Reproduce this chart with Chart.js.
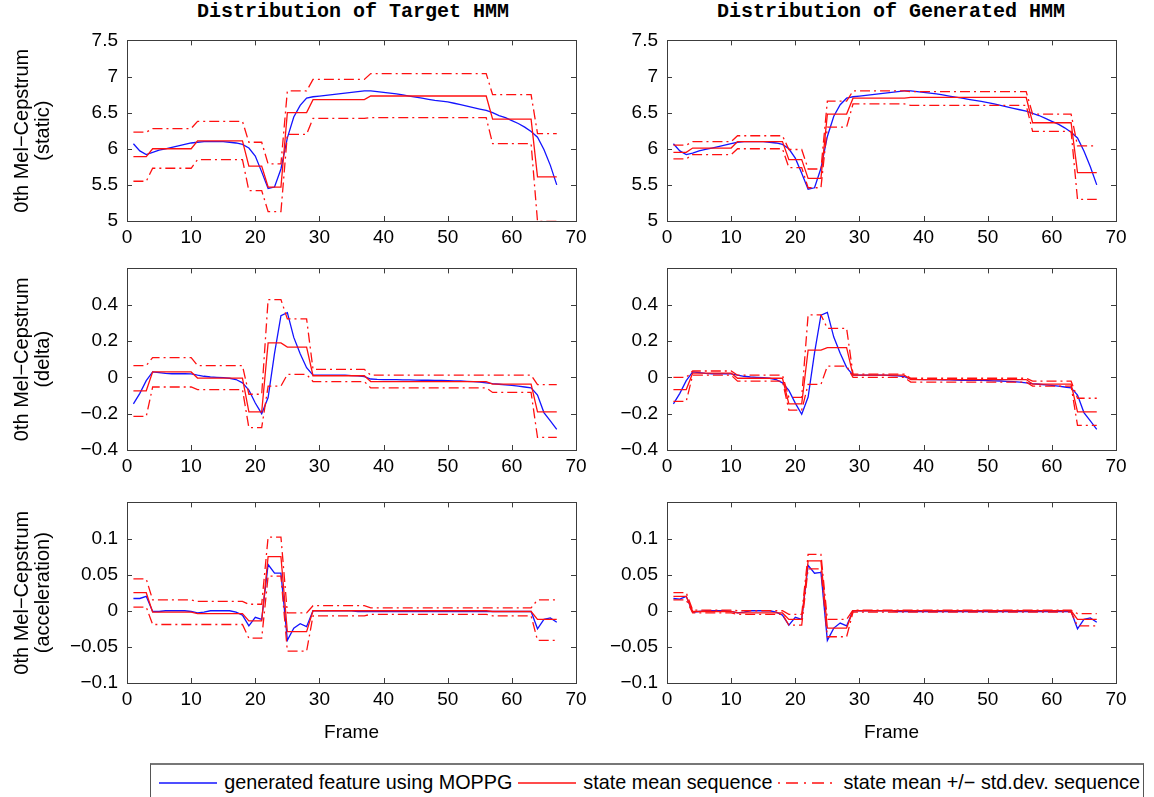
<!DOCTYPE html>
<html>
<head>
<meta charset="utf-8">
<script src="https://cdn.jsdelivr.net/npm/chart.js@4.4.0/dist/chart.umd.min.js"></script>
<style>
  body { margin: 0; width: 1154px; height: 797px; background: #fff; position: relative; overflow: hidden;
         font-family: "Liberation Sans", Arial, sans-serif; }
  canvas { position: absolute; }
  .coltitle { position: absolute; top: 0; line-height: 26px; font: bold 20px "Liberation Mono", monospace;
              transform: translateX(-50%); white-space: nowrap; color: #000; }
  #legend { position: absolute; left: 150px; top: 763px; width: 994px; height: 38px; box-sizing: border-box;
            border: 1px solid #555; border-top: 2px solid #777; display: flex; align-items: center;
            justify-content: flex-end; padding-right: 3px; font-size: 19.8px; color: #000; white-space: nowrap; }
  #legend svg { margin: 0 7px 0 6px; }
</style>
</head>
<body>
<div class="coltitle" style="left:353px">Distribution of Target HMM</div>
<div class="coltitle" style="left:891px">Distribution of Generated HMM</div>

<canvas id="c1" width="606" height="236" style="left:0;top:20px"></canvas>
<canvas id="c2" width="540" height="236" style="left:606px;top:20px"></canvas>
<canvas id="c3" width="606" height="237" style="left:0;top:248px"></canvas>
<canvas id="c4" width="540" height="237" style="left:606px;top:248px"></canvas>
<canvas id="c5" width="606" height="263" style="left:0;top:482px"></canvas>
<canvas id="c6" width="540" height="263" style="left:606px;top:482px"></canvas>

<div id="legend">
  <svg width="58" height="10"><line x1="0" y1="5" x2="58" y2="5" stroke="#1414ff" stroke-width="1.3"/></svg>
  <span>generated feature using MOPPG</span>
  <svg width="58" height="10"><line x1="0" y1="5" x2="58" y2="5" stroke="#ff1010" stroke-width="1.3"/></svg>
  <span>state mean sequence</span>
  <svg width="58" height="10"><line x1="0" y1="5" x2="58" y2="5" stroke="#ff1010" stroke-width="1.3" stroke-dasharray="2 6 12 6"/></svg>
  <span>state mean +/− std.dev. sequence</span>
</div>

<script>
// frame index (x axis)
const frames = [1,2,3,4,5,6,7,8,9,10,11,12,13,14,15,16,17,18,19,20,21,22,23,24,25,26,27,28,29,30,
  31,32,33,34,35,36,37,38,39,40,41,42,43,44,45,46,47,48,49,50,51,52,53,54,55,56,57,58,59,60,
  61,62,63,64,65,66,67];

// HMM state segments (first and last frame of each state)
const stateStart = [1, 4, 11, 19, 22, 25, 29, 38, 57, 64];
const stateEnd   = [3, 10, 18, 21, 24, 28, 37, 56, 63, 67];

const xTicks = [0, 10, 20, 30, 40, 50, 60, 70];
const staticTicks = [5, 5.5, 6, 6.5, 7, 7.5];
const deltaTicks = [-0.4, -0.2, 0, 0.2, 0.4];
const accelTicks = [-0.1, -0.05, 0, 0.05, 0.1];

// ---- static ----
const tgtStaticBlue = [6.07,5.97,5.92,5.95,5.98,6.00,6.02,6.04,6.06,6.08,
  6.09,6.10,6.10,6.10,6.10,6.09,6.08,6.06,6.01,5.90,
  5.68,5.45,5.47,5.72,6.15,6.44,6.60,6.70,6.72,6.73,
  6.74,6.75,6.76,6.77,6.78,6.79,6.80,6.80,6.79,6.78,
  6.77,6.76,6.745,6.73,6.715,6.70,6.685,6.67,6.66,6.65,
  6.63,6.61,6.59,6.57,6.55,6.53,6.50,6.46,6.43,6.39,
  6.35,6.30,6.24,6.16,5.99,5.77,5.50];
const tgtStaticMean  = [5.89, 6.00, 6.11, 5.76, 5.47, 6.50, 6.68, 6.73, 6.41, 5.61];
const tgtStaticUpper = [6.23, 6.28, 6.38, 6.09, 5.79, 6.80, 6.96, 7.04, 6.75, 6.21];
const tgtStaticLower = [5.55, 5.73, 5.85, 5.42, 5.13, 6.20, 6.42, 6.43, 6.07, 4.995];

const genStaticBlue = [6.07,5.97,5.92,5.94,5.97,5.99,6.01,6.03,6.05,6.07,
  6.09,6.10,6.10,6.10,6.10,6.09,6.08,6.06,6.00,5.87,
  5.66,5.44,5.46,5.73,6.17,6.45,6.61,6.70,6.72,6.73,
  6.74,6.75,6.76,6.77,6.78,6.79,6.80,6.80,6.79,6.78,
  6.77,6.76,6.745,6.73,6.715,6.70,6.685,6.67,6.655,6.64,
  6.62,6.60,6.58,6.56,6.54,6.52,6.49,6.46,6.42,6.38,
  6.34,6.29,6.23,6.15,5.97,5.75,5.50];
const genStaticMean  = [5.95, 6.01, 6.10, 5.85, 5.59, 6.48, 6.70, 6.71, 6.36, 5.67];
const genStaticUpper = [6.05, 6.10, 6.18, 5.99, 5.72, 6.66, 6.80, 6.79, 6.48, 6.04];
const genStaticLower = [5.86, 5.92, 6.00, 5.74, 5.46, 6.30, 6.62, 6.60, 6.24, 5.30];

// ---- delta ----
const tgtDeltaBlue = [-0.146,-0.088,-0.018,0.030,0.026,0.022,0.020,0.020,0.020,0.019,
  0.012,0.006,0.002,0.000,-0.002,-0.005,-0.012,-0.030,-0.070,-0.141,
  -0.200,-0.111,0.132,0.340,0.356,0.220,0.130,0.053,0.012,0.012,
  0.012,0.012,0.012,0.012,0.010,0.008,0.004,-0.009,-0.011,-0.012,
  -0.013,-0.013,-0.014,-0.014,-0.015,-0.016,-0.016,-0.017,-0.017,-0.018,
  -0.019,-0.020,-0.022,-0.024,-0.026,-0.030,-0.035,-0.038,-0.041,-0.044,
  -0.048,-0.053,-0.058,-0.097,-0.194,-0.240,-0.287];
const tgtDeltaMean  = [-0.074, 0.030, -0.004, -0.190, 0.190, 0.167, 0.009, -0.023, -0.037, -0.190];
const tgtDeltaUpper = [0.065, 0.109, 0.065, -0.093, 0.428, 0.322, 0.044, 0.012, 0.012, -0.040];
const tgtDeltaLower = [-0.215, -0.053, -0.067, -0.277, -0.048, 0.016, -0.023, -0.058, -0.083, -0.331];

const genDeltaBlue = [-0.146,-0.088,-0.018,0.030,0.026,0.022,0.020,0.020,0.020,0.019,
  0.012,0.006,0.002,0.000,-0.002,-0.005,-0.012,-0.030,-0.072,-0.142,
  -0.203,-0.108,0.135,0.342,0.358,0.222,0.133,0.055,0.012,0.012,
  0.012,0.012,0.012,0.012,0.010,0.008,0.004,-0.009,-0.011,-0.012,
  -0.013,-0.013,-0.014,-0.014,-0.015,-0.016,-0.016,-0.017,-0.017,-0.018,
  -0.019,-0.020,-0.022,-0.024,-0.026,-0.030,-0.035,-0.038,-0.041,-0.044,
  -0.048,-0.053,-0.058,-0.097,-0.194,-0.240,-0.287];
const genDeltaMean  = [-0.067, 0.023, -0.005, -0.146, 0.150, 0.164, 0.012, -0.012, -0.037, -0.190];
const genDeltaUpper = [0.000, 0.035, 0.012, -0.110, 0.344, 0.270, 0.018, -0.005, -0.021, -0.115];
const genDeltaLower = [-0.132, 0.012, -0.021, -0.180, -0.039, 0.062, 0.000, -0.026, -0.048, -0.264];

// ---- acceleration ----
const tgtAccelBlue = [0.017,0.017,0.020,-0.001,-0.001,0.000,0.000,0.000,0.000,-0.001,
  -0.003,-0.002,0.000,0.000,0.000,0.000,-0.002,-0.006,-0.021,-0.009,
  -0.012,0.064,0.052,0.052,-0.041,-0.024,-0.018,-0.022,0.000,0.000,
  0.000,0.000,0.000,0.000,0.000,-0.001,-0.001,-0.001,-0.001,-0.001,
  -0.001,-0.001,-0.001,-0.001,-0.001,-0.001,-0.001,-0.001,-0.001,-0.001,
  -0.001,-0.001,-0.001,-0.001,-0.001,-0.001,-0.001,-0.001,-0.001,-0.001,
  -0.001,-0.001,-0.001,-0.025,-0.012,-0.010,-0.016];
const tgtAccelMean  = [0.025, -0.002, -0.004, -0.014, 0.075, -0.029, 0.000, 0.000, -0.001, -0.012];
const tgtAccelUpper = [0.044, 0.015, 0.013, 0.009, 0.102, -0.003, 0.007, 0.004, 0.004, 0.015];
const tgtAccelLower = [0.005, -0.019, -0.019, -0.038, 0.048, -0.056, -0.007, -0.005, -0.007, -0.041];

const genAccelBlue = [0.017,0.016,0.020,-0.002,-0.001,0.000,0.000,0.000,0.000,-0.001,
  -0.003,-0.002,0.000,0.000,0.000,0.000,-0.002,-0.006,-0.020,-0.009,
  -0.012,0.063,0.052,0.053,-0.041,-0.024,-0.017,-0.021,0.000,0.000,
  0.000,0.000,0.000,0.000,0.000,-0.001,-0.001,-0.001,-0.001,-0.001,
  -0.001,-0.001,-0.001,-0.001,-0.001,-0.001,-0.001,-0.001,-0.001,-0.001,
  -0.001,-0.001,-0.001,-0.001,-0.001,-0.001,-0.001,-0.001,-0.001,-0.001,
  -0.001,-0.001,-0.001,-0.025,-0.012,-0.010,-0.016];
const genAccelMean  = [0.020, -0.001, -0.003, -0.012, 0.069, -0.024, 0.000, 0.000, 0.000, -0.012];
const genAccelUpper = [0.025, 0.001, 0.000, -0.005, 0.078, -0.012, 0.001, 0.001, 0.001, -0.004];
const genAccelLower = [0.015, -0.003, -0.005, -0.020, 0.058, -0.036, -0.002, -0.002, -0.002, -0.021];

const BLUE = '#1414ff';
const RED = '#ff1010';
const FONT = '"Liberation Sans", Arial, sans-serif';

// corner points of a state sequence: each state is flat from its first to its last frame
function statePoints(vals) {
  const pts = [];
  vals.forEach((v, i) => {
    pts.push({ x: stateStart[i], y: v });
    pts.push({ x: stateEnd[i], y: v });
  });
  return pts;
}

// matlab style box with inward ticks on all four sides
const boxPlugin = {
  id: 'matlabBox',
  beforeDatasetsDraw(chart) {
    const { ctx, chartArea: a, scales } = chart;
    ctx.save();
    ctx.strokeStyle = '#3c3c3c';
    ctx.lineWidth = 1;
    ctx.beginPath();
    scales.x.ticks.forEach(t => {
      const px = Math.round(scales.x.getPixelForValue(t.value)) + 0.5;
      ctx.moveTo(px, a.bottom); ctx.lineTo(px, a.bottom - 5);
      ctx.moveTo(px, a.top); ctx.lineTo(px, a.top + 5);
    });
    scales.y.ticks.forEach(t => {
      const py = Math.round(scales.y.getPixelForValue(t.value)) + 0.5;
      ctx.moveTo(a.left, py); ctx.lineTo(a.left + 5, py);
      ctx.moveTo(a.right, py); ctx.lineTo(a.right - 5, py);
    });
    ctx.stroke();
    ctx.strokeRect(Math.round(a.left) + 0.5, Math.round(a.top) + 0.5,
                   Math.round(a.right - a.left), Math.round(a.bottom - a.top));
    ctx.restore();
  }
};

function fmt(v) {
  return String(v).replace('-', '\u2212');
}

function makePanel(id, blue, mean, upper, lower, yMin, yMax, yTicks, yWidth, yTitle, xHeight, xTitle) {
  new Chart(document.getElementById(id), {
    type: 'line',
    data: {
      datasets: [
        { data: statePoints(mean), borderColor: RED, borderWidth: 1.3 },
        { data: statePoints(upper), borderColor: RED, borderWidth: 1.3, borderDash: [10, 4, 2, 4] },
        { data: statePoints(lower), borderColor: RED, borderWidth: 1.3, borderDash: [10, 4, 2, 4] },
        { data: frames.map((f, i) => ({ x: f, y: blue[i] })), borderColor: BLUE, borderWidth: 1.3 }
      ]
    },
    options: {
      responsive: false,
      animation: false,
      layout: { padding: { top: 14, right: 30, left: 0, bottom: 0 } },
      elements: { point: { radius: 0 }, line: { tension: 0, fill: false } },
      plugins: { legend: { display: false }, tooltip: { enabled: false } },
      scales: {
        x: {
          type: 'linear', min: 0, max: 70,
          grid: { display: false, drawTicks: false },
          border: { display: false },
          afterBuildTicks: s => { s.ticks = xTicks.map(v => ({ value: v })); },
          afterFit: s => { s.height = xHeight; },
          ticks: { font: { family: FONT, size: 19 }, color: '#000', padding: 5, maxRotation: 0, callback: v => fmt(v) },
          title: { display: !!xTitle, text: xTitle || '', color: '#000',
                   font: { family: FONT, size: 19 }, padding: { top: 0, bottom: 1 } }
        },
        y: {
          type: 'linear', min: yMin, max: yMax,
          grid: { display: false, drawTicks: false },
          border: { display: false },
          afterBuildTicks: s => { s.ticks = yTicks.map(v => ({ value: v })); },
          afterFit: s => { s.width = yWidth; },
          ticks: { font: { family: FONT, size: 19 }, color: '#000', padding: 9, callback: v => fmt(v) },
          title: { display: !!yTitle, text: yTitle || '', color: '#000',
                   font: { family: FONT, size: 20, lineHeight: 1.05 }, padding: { top: 11.5, bottom: 0 } }
        }
      }
    },
    plugins: [boxPlugin]
  });
}

makePanel('c1', tgtStaticBlue, tgtStaticMean, tgtStaticUpper, tgtStaticLower, 5, 7.5, staticTicks, 127,
  ['0th Mel\u2212Cepstrum', '(static)'], 35, null);
makePanel('c2', genStaticBlue, genStaticMean, genStaticUpper, genStaticLower, 5, 7.5, staticTicks, 61,
  null, 35, null);
makePanel('c3', tgtDeltaBlue, tgtDeltaMean, tgtDeltaUpper, tgtDeltaLower, -0.4, 0.6, deltaTicks, 127,
  ['0th Mel\u2212Cepstrum', '(delta)'], 35, null);
makePanel('c4', genDeltaBlue, genDeltaMean, genDeltaUpper, genDeltaLower, -0.4, 0.6, deltaTicks, 61,
  null, 35, null);
makePanel('c5', tgtAccelBlue, tgtAccelMean, tgtAccelUpper, tgtAccelLower, -0.1, 0.15, accelTicks, 127,
  ['0th Mel\u2212Cepstrum', '(acceleration)'], 62, 'Frame');
makePanel('c6', genAccelBlue, genAccelMean, genAccelUpper, genAccelLower, -0.1, 0.15, accelTicks, 61,
  null, 62, 'Frame');
</script>
</body>
</html>
